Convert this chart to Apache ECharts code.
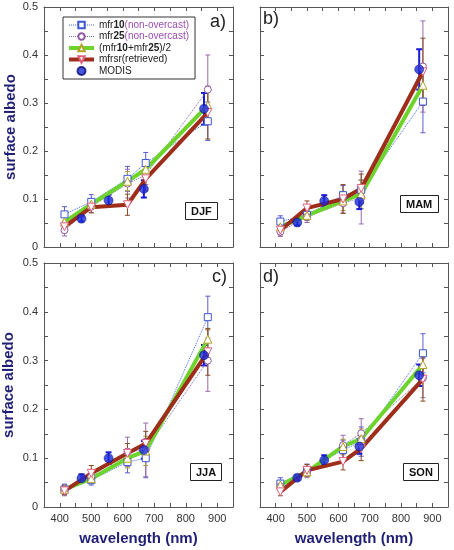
<!DOCTYPE html>
<html>
<head>
<meta charset="utf-8">
<script src="https://cdn.jsdelivr.net/npm/echarts@6/dist/echarts.min.js"></script>
<style>
  html, body { margin: 0; padding: 0; background: #fff; }
  #chart { width: 454px; height: 550px; }
</style>
</head>
<body>
<div id="chart"></div>
<script>
// wavelengths (nm)
const wavelengths = [415, 500, 615, 673, 870];
const modisBands = [469, 555, 667, 858];
const xTicks = [400, 500, 600, 700, 800, 900];
const yTicks = [0, 0.1, 0.2, 0.3, 0.4, 0.5];

const seriesNames = ['mfr10(non-overcast)', 'mfr25(non-overcast)', '(mfr10+mfr25)/2', 'mfrsr(retrieved)', 'MODIS'];
const seasons = ['DJF', 'MAM', 'JJA', 'SON'];
const panelLetters = ['a)', 'b)', 'c)', 'd)'];

// DJF
const djfMfr10 = [0.068, 0.094, 0.142, 0.175, 0.262];
const djfMfr10Err = [0.016, 0.015, 0.026, 0.022, 0.04];
const djfMfr25 = [0.035, 0.084, 0.132, 0.150, 0.328];
const djfMfr25Err = [0.012, 0.012, 0.030, 0.020, 0.072];
const djfMean = [0.052, 0.089, 0.137, 0.162, 0.295];
const djfMeanErr = [0.010, 0.010, 0.020, 0.020, 0.035];
const djfMfrsr = [0.042, 0.083, 0.088, 0.142, 0.280];
const djfMfrsrErr = [0.012, 0.012, 0.022, 0.025, 0.055];
const djfModis = [0.059, 0.097, 0.121, 0.288];
const djfModisErr = [0.006, 0.012, 0.018, 0.033];

// MAM
const mamMfr10 = [0.053, 0.067, 0.108, 0.119, 0.303];
const mamMfr10Err = [0.012, 0.012, 0.020, 0.020, 0.065];
const mamMfr25 = [0.032, 0.063, 0.091, 0.103, 0.376];
const mamMfr25Err = [0.010, 0.012, 0.020, 0.055, 0.095];
const mamMean = [0.042, 0.066, 0.096, 0.110, 0.337];
const mamMeanErr = [0.008, 0.010, 0.020, 0.030, 0.030];
const mamMfrsr = [0.035, 0.081, 0.100, 0.122, 0.365];
const mamMfrsrErr = [0.010, 0.015, 0.030, 0.030, 0.070];
const mamModis = [0.051, 0.096, 0.094, 0.370];
const mamModisErr = [0.006, 0.012, 0.015, 0.042];

// JJA
const jjaMfr10 = [0.036, 0.055, 0.092, 0.100, 0.389];
const jjaMfr10Err = [0.010, 0.010, 0.022, 0.040, 0.043];
const jjaMfr25 = [0.035, 0.062, 0.113, 0.117, 0.300];
const jjaMfr25Err = [0.012, 0.012, 0.030, 0.055, 0.063];
const jjaMean = [0.036, 0.058, 0.100, 0.115, 0.344];
const jjaMeanErr = [0.008, 0.010, 0.020, 0.030, 0.020];
const jjaMfrsr = [0.033, 0.069, 0.110, 0.130, 0.318];
const jjaMfrsrErr = [0.008, 0.016, 0.020, 0.025, 0.048];
const jjaModis = [0.059, 0.100, 0.117, 0.311];
const jjaModisErr = [0.008, 0.012, 0.018, 0.021];

// SON
const sonMfr10 = [0.048, 0.076, 0.117, 0.134, 0.315];
const sonMfr10Err = [0.012, 0.012, 0.020, 0.030, 0.040];
const sonMfr25 = [0.042, 0.070, 0.127, 0.151, 0.264];
const sonMfr25Err = [0.010, 0.010, 0.020, 0.030, 0.040];
const sonMean = [0.045, 0.072, 0.124, 0.140, 0.292];
const sonMeanErr = [0.008, 0.010, 0.015, 0.020, 0.025];
const sonMfrsr = [0.031, 0.075, 0.093, 0.120, 0.262];
const sonMfrsrErr = [0.008, 0.012, 0.017, 0.025, 0.045];
const sonModis = [0.060, 0.096, 0.124, 0.270];
const sonModisErr = [0.005, 0.010, 0.015, 0.022];

const panelData = [
  [djfMfr10, djfMfr10Err, djfMfr25, djfMfr25Err, djfMean, djfMeanErr, djfMfrsr, djfMfrsrErr, djfModis, djfModisErr],
  [mamMfr10, mamMfr10Err, mamMfr25, mamMfr25Err, mamMean, mamMeanErr, mamMfrsr, mamMfrsrErr, mamModis, mamModisErr],
  [jjaMfr10, jjaMfr10Err, jjaMfr25, jjaMfr25Err, jjaMean, jjaMeanErr, jjaMfrsr, jjaMfrsrErr, jjaModis, jjaModisErr],
  [sonMfr10, sonMfr10Err, sonMfr25, sonMfr25Err, sonMean, sonMeanErr, sonMfrsr, sonMfrsrErr, sonModis, sonModisErr]
];

const FONT = 'Liberation Sans, Arial, sans-serif';
const NAVY = '#1f1f78';
const AXIS = '#555';

// grid boxes: a, b, c, d
const grids = [
  { left: 44, top: 7, width: 189, height: 240 },
  { left: 260, top: 7, width: 188, height: 240 },
  { left: 44, top: 263, width: 189, height: 244 },
  { left: 260, top: 263, width: 188, height: 244 }
];

// styles for the 5 series
const styles = [
  { symbol: 'rect', size: 7, border: '#3d56d6', line: { color: '#4868e6', width: 1, type: 'dotted' }, err: '#5a5ad2' },
  { symbol: 'circle', size: 7, border: '#8e5aa0', line: { color: '#7c64aa', width: 1, type: 'dotted' }, err: '#9a6ab0' },
  { symbol: 'triangle', size: 8, border: '#b3a22c', line: { color: '#6cd42c', width: 4 }, err: '#a89a3a' },
  { symbol: 'triangle', rotate: 180, size: 8, border: '#e2607c', line: { color: '#9e2e1a', width: 4 }, err: '#8a4a22' },
  { symbol: 'circle', size: 9, err: '#1a1ad8' }
];

function errorBar(color, lw, cap) {
  return function (params, api) {
    const x = api.value(0), y = api.value(1), e = api.value(2);
    const top = api.coord([x, y + e]);
    const bot = api.coord([x, y - e]);
    const st = { stroke: color, lineWidth: lw };
    return {
      type: 'group',
      children: [
        { type: 'line', shape: { x1: top[0], y1: top[1], x2: bot[0], y2: bot[1] }, style: st },
        { type: 'line', shape: { x1: top[0] - cap, y1: top[1], x2: top[0] + cap, y2: top[1] }, style: st },
        { type: 'line', shape: { x1: bot[0] - cap, y1: bot[1], x2: bot[0] + cap, y2: bot[1] }, style: st }
      ]
    };
  };
}

const xAxes = [];
const yAxes = [];
const series = [];

grids.forEach((g, i) => {
  const showX = i >= 2;
  const showY = i % 2 === 0;
  const tick = { show: true, inside: true, length: 4, lineStyle: { color: AXIS } };
  const xBase = {
    gridIndex: i, type: 'value', min: 350, max: 950, interval: 50,
    axisLine: { show: true, onZero: false, lineStyle: { color: AXIS } },
    axisTick: tick, splitLine: { show: false }
  };
  xAxes.push(Object.assign({}, xBase, {
    position: 'bottom',
    axisLabel: {
      show: showX, color: '#333', fontSize: 11, fontFamily: FONT, margin: 6,
      formatter: v => xTicks.indexOf(v) >= 0 ? String(v) : ''
    },
    name: showX ? 'wavelength (nm)' : '',
    nameLocation: 'middle', nameGap: 24,
    nameTextStyle: { color: NAVY, fontSize: 15, fontWeight: 'bold', fontFamily: FONT }
  }));
  xAxes.push(Object.assign({}, xBase, { position: 'top', axisLabel: { show: false } }));

  const yBase = {
    gridIndex: i, type: 'value', min: 0, max: 0.5, interval: 0.1,
    axisLine: { show: true, onZero: false, lineStyle: { color: AXIS } },
    axisTick: tick,
    minorTick: { show: true, splitNumber: 2, length: 4, lineStyle: { color: AXIS } },
    splitLine: { show: false }, minorSplitLine: { show: false }
  };
  yAxes.push(Object.assign({}, yBase, {
    position: 'left',
    axisLabel: {
      show: showY, color: '#333', fontSize: 11, fontFamily: FONT, margin: 6,
      formatter: v => v === 0 ? '0' : v.toFixed(1)
    },
    name: showY ? 'surface albedo' : '',
    nameLocation: 'middle', nameGap: i === 0 ? 22 : 28,
    nameTextStyle: { color: NAVY, fontSize: 15, fontWeight: 'bold', fontFamily: FONT }
  }));
  yAxes.push(Object.assign({}, yBase, { position: 'right', axisLabel: { show: false } }));

  const d = panelData[i];
  // error bars first
  for (let s = 0; s < 5; s++) {
    const xs = s === 4 ? modisBands : wavelengths;
    const vals = d[s * 2], errs = d[s * 2 + 1];
    series.push({
      type: 'custom', xAxisIndex: i * 2, yAxisIndex: i * 2,
      renderItem: errorBar(styles[s].err, s === 4 ? 2 : 1, s === 4 ? 3 : 2.5),
      encode: { x: 0, y: 1 },
      data: xs.map((x, k) => [x, vals[k], errs[k]]),
      silent: true, z: 2
    });
  }
  // lines + markers
  for (let s = 0; s < 4; s++) {
    const st = styles[s];
    series.push({
      name: seriesNames[s], type: 'line', xAxisIndex: i * 2, yAxisIndex: i * 2,
      data: wavelengths.map((x, k) => [x, d[s * 2][k]]),
      symbol: st.symbol, symbolSize: st.size, symbolRotate: st.rotate || 0,
      showAllSymbol: true,
      itemStyle: { color: '#fff', borderColor: st.border, borderWidth: 1 },
      lineStyle: st.line,
      emphasis: { disabled: true },
      z: 3
    });
  }
  series.push({
    name: seriesNames[4], type: 'scatter', xAxisIndex: i * 2, yAxisIndex: i * 2,
    data: modisBands.map((x, k) => [x, d[8][k]]),
    symbol: 'circle', symbolSize: styles[4].size,
    itemStyle: { color: '#1a2ad8', borderColor: '#0c0c70', borderWidth: 0.6 },
    z: 4
  });
});

const titles = [];
const letterPos = [[210, 13], [263, 10], [212, 268], [263, 268]];
const seasonPos = [[185, 202], [400, 195], [190, 463], [403, 463]];
seasons.forEach((s, i) => {
  titles.push({
    text: panelLetters[i], left: letterPos[i][0], top: letterPos[i][1], padding: 0,
    textStyle: { fontSize: 18, fontWeight: 'normal', color: '#222', fontFamily: FONT }
  });
  titles.push({
    text: s, left: seasonPos[i][0], top: seasonPos[i][1], padding: [4, 6, 3, 6],
    borderColor: '#222', borderWidth: 1, backgroundColor: '#fff',
    textStyle: { fontSize: 11, fontWeight: 'bold', color: '#111', fontFamily: FONT }
  });
});

const legendLabels = {
  'mfr10(non-overcast)': '{n|mfr}{b|10}{u|(non-overcast)}',
  'mfr25(non-overcast)': '{n|mfr}{b|25}{u|(non-overcast)}',
  '(mfr10+mfr25)/2': '{n|(mfr}{b|10}{n|+mfr}{b|25}{n|)/2}',
  'mfrsr(retrieved)': '{n|mfrsr(retrieved)}',
  'MODIS': '{n|MODIS}'
};

const chart = echarts.init(document.getElementById('chart'));
chart.setOption({
  backgroundColor: '#fff',
  animation: false,
  title: titles,
  grid: grids.map(g => Object.assign({ containLabel: false }, g)),
  xAxis: xAxes,
  yAxis: yAxes,
  legend: {
    data: seriesNames, orient: 'vertical', left: 63, top: 17,
    itemWidth: 25, itemHeight: 8, itemGap: 1.5,
    padding: [3, 6, 3, 4], borderColor: '#333', borderWidth: 1, backgroundColor: '#fff',
    selectedMode: false,
    lineStyle: { width: 'inherit' },
    formatter: name => legendLabels[name],
    textStyle: {
      fontSize: 10, color: '#222', fontFamily: FONT,
      rich: {
        n: { fontSize: 10, color: '#222', lineHeight: 11 },
        b: { fontSize: 10, color: '#222', fontWeight: 'bold', lineHeight: 11 },
        u: { fontSize: 10, color: '#9b4fb5', lineHeight: 11 }
      }
    }
  },
  series: series
});
</script>
</body>
</html>
